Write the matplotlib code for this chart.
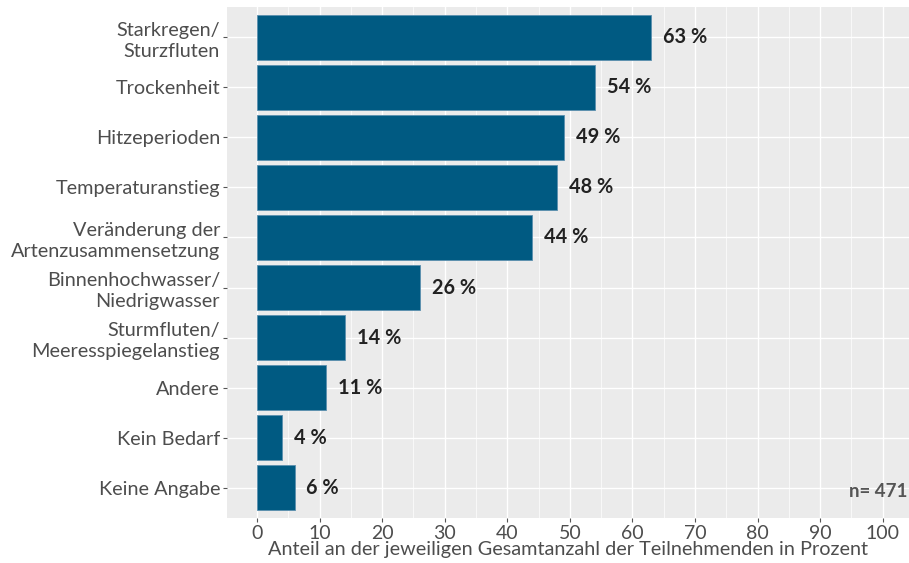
import matplotlib
matplotlib.use("Agg")
import matplotlib.pyplot as plt
import numpy as np

categories = ["Starkregen/\nSturzfluten", "Trockenheit", "Hitzeperioden", "Temperaturanstieg",
              "Veränderung der\nArtenzusammensetzung", "Binnenhochwasser/\nNiedrigwasser",
              "Sturmfluten/\nMeeresspiegelanstieg", "Andere", "Kein Bedarf", "Keine Angabe"]
values = [63, 54, 49, 48, 44, 26, 14, 11, 4, 6]
xticks = [0, 10, 20, 30, 40, 50, 60, 70, 80, 90, 100]

plt.rcParams['font.family'] = ['Lato', 'DejaVu Sans']

W, H = 909, 563
fig = plt.figure(figsize=(W/100, H/100), dpi=100)
left, right, top, bottom = 227, 909, 7, 518
ax = fig.add_axes([left/W, 1-bottom/H, (right-left)/W, (bottom-top)/H])
ax.set_facecolor('#EBEBEB')

n = len(categories)
y = np.arange(n)
ax.barh(y, values, height=0.9, color='#005A82', edgecolor='#5b8fae', linewidth=0.6, zorder=3)
for yi, v in zip(y, values):
    ax.text(v + 1.9, yi, f"{v} %", va='center', ha='left', fontsize=14.3,
            fontweight='bold', color='#222222', zorder=4)

ax.set_xlim(-4.8, 104.2)
ax.set_ylim(n - 1 + 0.6, -0.6)
ax.set_yticks(y)
ax.set_yticklabels(categories, fontsize=14.3, color='#4D4D4D', linespacing=1.3)
ax.set_xticks(xticks)
ax.set_xticklabels([str(t) for t in xticks], fontsize=14, color='#4D4D4D')
ax.set_xticks(np.arange(5, 105, 10), minor=True)
ax.grid(True, which='major', color='white', linewidth=1.0, zorder=0)
ax.grid(True, which='minor', axis='x', color='white', linewidth=0.5, zorder=0)
ax.set_axisbelow(True)
for s in ax.spines.values():
    s.set_visible(False)
ax.tick_params(axis='both', which='major', length=3, color='#555555', pad=2)
ax.tick_params(axis='x', which='minor', length=0)
ax.set_xlabel("Anteil an der jeweiligen Gesamtanzahl der Teilnehmenden in Prozent",
              fontsize=14.3, color='#4D4D4D', labelpad=-1)
ax.text(0.997, 0.035, "n= 471", transform=ax.transAxes, ha='right', va='bottom',
        fontsize=13.5, fontweight='bold', color='#555555')

fig.savefig("out.png", dpi=100)
